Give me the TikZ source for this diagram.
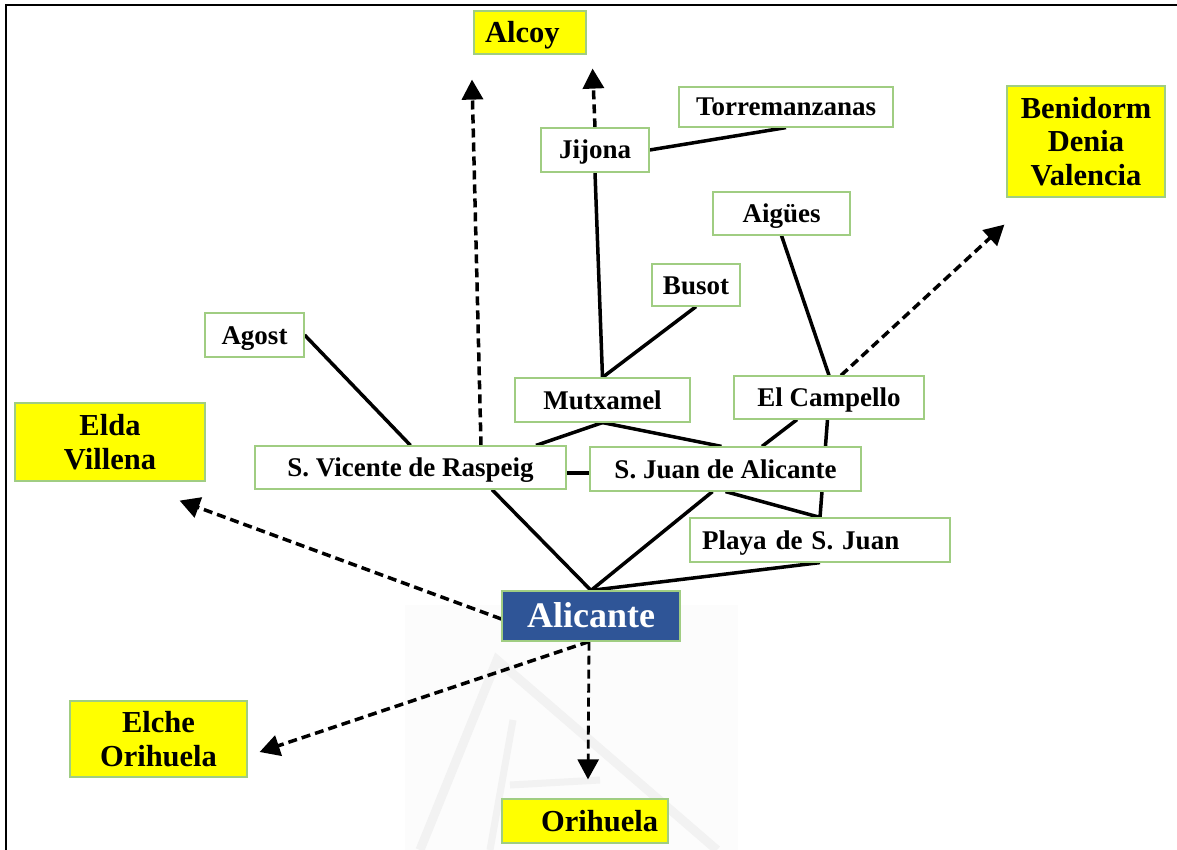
\documentclass[tikz,border=0pt]{standalone}
\usepackage{fontspec}
\setmainfont{Liberation Serif}
\usetikzlibrary{arrows.meta}
\definecolor{boxline}{RGB}{160,205,130}
\definecolor{hub}{RGB}{47,85,151}
\definecolor{dest}{RGB}{255,255,0}
\definecolor{emblem}{RGB}{242,242,242}
\pgfdeclarelayer{back}
\pgfdeclarelayer{roads}
\pgfsetlayers{back,roads,main}
\begin{document}
\begin{tikzpicture}[x=1pt,y=-1pt,
  town/.style={draw=boxline,line width=1.2pt,fill=white,inner sep=0pt,
    text height=18pt,text depth=0pt,
    font=\fontsize{27}{32}\selectfont\bfseries},
  destbox/.style={draw=boxline,line width=1.2pt,fill=dest,inner sep=0pt,align=center,
    font=\fontsize{30.5}{33.3}\selectfont\bfseries},
  hubbox/.style={draw=boxline,line width=1.2pt,fill=hub,text=white,inner sep=0pt,
    text height=23pt,text depth=0pt,
    font=\fontsize{36}{40}\selectfont\bfseries},
  road/.style={line width=3.5pt},
  route/.style={line width=3.5pt,dash pattern=on 9pt off 5pt,
    -{Triangle[length=20pt,width=21pt]}},
]
\useasboundingbox (0,0) rectangle (1177,850);

% places
\node[destbox,minimum width=112pt,minimum height=43pt,text width=90pt,inner xsep=11pt,align=left,text height=20pt,text depth=0pt] (alcoy) at (530,32.5) {Alcoy};
\node[town,minimum width=214pt,minimum height=40pt] (torre) at (786,107) {Torremanzanas};
\node[town,minimum width=108pt,minimum height=44pt] (jijona) at (595,150) {Jijona};
\node[destbox,minimum width=158pt,minimum height=111pt] (ben) at (1086,141.5) {Benidorm\\Denia\\Valencia};
\node[town,minimum width=137pt,minimum height=43pt] (aigues) at (781.5,213.5) {Aigües};
\node[town,minimum width=88pt,minimum height=42pt] (busot) at (696,285) {Busot};
\node[town,minimum width=99pt,minimum height=44pt] (agost) at (254.5,335) {Agost};
\node[town,minimum width=175pt,minimum height=44pt] (mutx) at (602.5,400) {Mutxamel};
\node[town,minimum width=190pt,minimum height=43pt] (camp) at (829,397.5) {El Campello};
\node[destbox,minimum width=190pt,minimum height=78pt] (elda) at (110,442) {Elda\\Villena};
\node[town,minimum width=311pt,minimum height=43pt] (svic) at (410.5,467.5) {S. Vicente de Raspeig};
\node[town,minimum width=271pt,minimum height=44pt] (sjuan) at (725.5,469) {S. Juan de Alicante};
\node[town,minimum width=260pt,minimum height=44pt,text width=236pt,inner xsep=12pt,align=left] (playa) at (820,540) {Playa de S. Juan};
\node[hubbox,minimum width=178pt,minimum height=50pt] (alic) at (591,616) {Alicante};
\node[destbox,minimum width=177pt,minimum height=76pt] (elche) at (158.5,739) {Elche\\Orihuela};
\node[destbox,minimum width=166pt,minimum height=44pt,text width=146pt,inner xsep=10pt,align=right,text height=20pt,text depth=0pt] (ori) at (585,821) {Orihuela};

% faint emblem and frame
\begin{pgfonlayer}{back}
  \fill[gray!2.5] (405,605) rectangle (738,850);
  \draw[emblem,line width=9pt] (420,850) -- (497,660) -- (717,850);
  \draw[emblem,line width=7pt] (490,850) -- (513,720);
  \draw[emblem,line width=7pt] (510,785) -- (600,780);
  \draw[line width=2pt] (6,850) -- (6,5) -- (1177,5);
\end{pgfonlayer}

% connections, beneath the boxes
\begin{pgfonlayer}{roads}
  \draw[road] (jijona.east) -- (torre.south);
  \draw[road] (jijona.south) -- (mutx.north);
  \draw[road] (busot.south) -- (mutx.north);
  \draw[road] (aigues.south) -- (camp.north);
  \draw[road] (agost.east) -- (svic.north);
  \draw[road] (mutx.south) -- ([xshift=125.5pt]svic.north);
  \draw[road] (mutx.south) -- ([xshift=-4pt]sjuan.north);
  \draw[road] ([yshift=-5.5pt]svic.east) -- ([yshift=-4pt]sjuan.west);
  \draw[road] ([xshift=-32pt]camp.south) -- ([xshift=36.5pt]sjuan.north);
  \draw[road] ([xshift=-1.5pt]camp.south) -- (playa.north);
  \draw[road] (sjuan.south) -- (playa.north);
  \draw[road] ([xshift=81.5pt]svic.south) -- (alic.north);
  \draw[road] ([xshift=-13pt]sjuan.south) -- (alic.north);
  \draw[road] (playa.south) -- (alic.north);

  \draw[route] ([xshift=70.5pt]svic.north) -- ([xshift=-58pt,yshift=-25pt]alcoy.south);
  \draw[route] (jijona.north) -- ([xshift=62.6pt,yshift=-14pt]alcoy.south);
  \draw[route] ([xshift=12pt]camp.north) -- ([xshift=-2pt,yshift=-27pt]ben.south west);
  \draw[route] ([yshift=-3pt]alic.west) -- ([xshift=-26pt,yshift=-19pt]elda.south east);
  \draw[route] ([xshift=-2pt]alic.south) -- ([xshift=12pt,yshift=-13pt]elche.east);
  \draw[route,line width=2.8pt] ([xshift=-2pt]alic.south) -- ([xshift=3pt,yshift=19pt]ori.north);
\end{pgfonlayer}
\end{tikzpicture}
\end{document}
